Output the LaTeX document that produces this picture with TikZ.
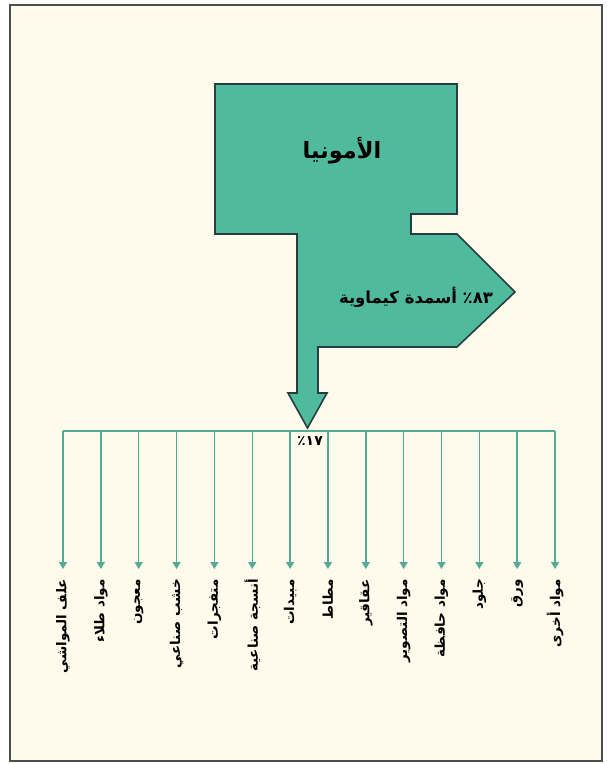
\documentclass[tikz,border=0pt]{standalone}
\usepackage{fontspec}
\newfontfamily\arabicfont[Script=Arabic]{DejaVu Sans}
\TeXXeTstate=1
\usetikzlibrary{arrows.meta}
\definecolor{paper}{RGB}{255,251,236}
\definecolor{frameclr}{RGB}{75,78,80}
\definecolor{tealfill}{RGB}{80,186,158}
\definecolor{tealedge}{RGB}{38,62,62}
\definecolor{busclr}{RGB}{84,170,148}
\newcommand{\artxt}[1]{\beginR #1\endR}
\tikzset{
  shp/.style={fill=tealfill, draw=tealedge, line width=1.6pt, line join=miter},
  ttl/.style={font=\arabicfont\bfseries\fontsize{22.5}{25}\selectfont, inner sep=0pt},
  pctlbl/.style={font=\arabicfont\bfseries\fontsize{16.5}{18}\selectfont, inner sep=0pt},
  lbl/.style={font=\arabicfont\bfseries\fontsize{13.5}{15}\selectfont, rotate=90,
              anchor=east, inner sep=0pt},
  bra/.style={draw=busclr, line width=1.5pt, -{Triangle[width=8pt,length=7pt]},
              shorten >=10pt}
}

\begin{document}
\begin{tikzpicture}[x=1pt, y=-1pt]
  \useasboundingbox (0,0) rectangle (607,764);
  \fill[white] (0,0) rectangle (607,764);
  \filldraw[fill=paper, draw=frameclr, line width=1.8pt] (10,5) rectangle (602,761);
  % ammonia block
  \draw[shp] (215,84) -- (457,84) -- (457,214) -- (411,214) -- (411,234) -- (457,234)
    -- (515,292) -- (457,347) -- (318,347) -- (318,393) -- (327,393) -- (307.5,428)
    -- (288,393) -- (297,393) -- (297,234) -- (215,234) -- cycle;
  \node[ttl] (ammonia) at (342,151) {\artxt{الأمونيا}};
  \node[pctlbl] (fert) at (416,297) {\artxt{٨٣٪ أسمدة كيماوية}};
  \node[pctlbl, font=\arabicfont\bfseries\fontsize{14}{16}\selectfont] (rest) at (310,441)
    {\artxt{١٧٪}};
  % branches
  \coordinate (bl) at (63,431);
  \coordinate (br) at (555,431);
  \draw[busclr, line width=1.5pt] (bl) -- (br);
  \foreach \i/\name in {1/علف المواشي, 2/مواد طلاء, 3/معجون, 4/خشب صناعي, 5/متفجرات,
      6/أنسجة صناعية, 7/مبيدات, 8/مطاط, 9/عقاقير, 10/مواد التصوير, 11/مواد حافظة,
      12/جلود, 13/ورق, 14/مواد أخرى} {
    \coordinate (b\i) at ({63+(\i-1)*37.85},431);
    \node[lbl] (l\i) at ({63+(\i-1)*37.85},579) {\artxt{\name}};
    \draw[bra] (b\i) -- (l\i.east);
  }
\end{tikzpicture}
\end{document}
